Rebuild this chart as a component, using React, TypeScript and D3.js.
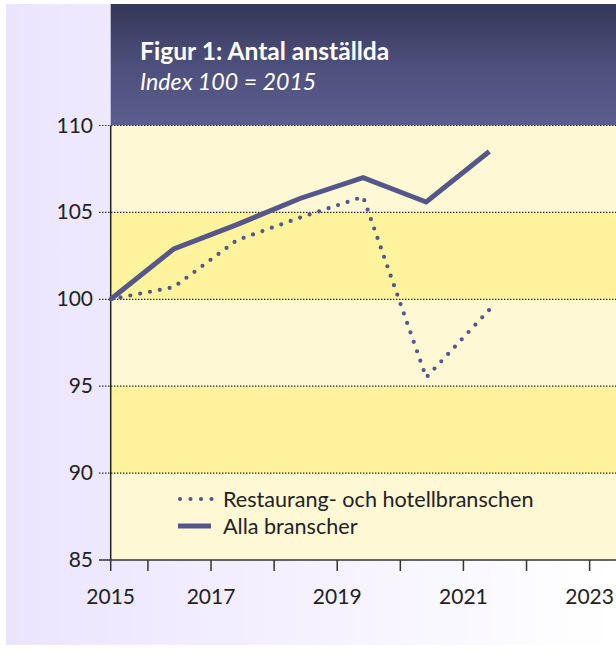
import React from "react";
import * as d3 from "d3";

const years = [2015, 2016, 2017, 2018, 2019, 2020, 2021];
const restaurang = [100, 100.7, 103.4, 104.7, 105.9, 95.5, 99.4];
const alla = [100, 102.9, 104.3, 105.8, 107.0, 105.6, 108.5];
const yTicks = [85, 90, 95, 100, 105, 110];
const xTickYears = [2016, 2017, 2018, 2019, 2020, 2021, 2022, 2023, 2024];
const xLabelYears = [2017, 2019, 2021, 2023];
const bands = [
  { from: 105, to: 110, dark: false },
  { from: 100, to: 105, dark: true },
  { from: 95, to: 100, dark: false },
  { from: 90, to: 95, dark: true },
  { from: 85, to: 90, dark: false },
];
const seriesNames = ["Restaurang- och hotellbranschen", "Alla branscher"];
const title = "Figur 1: Antal anställda";
const subtitle = "Index 100 = 2015";

const OFFSET = 0.41;
const START = 2015 + OFFSET;

export default function App() {
  const W = 616, H = 671;
  const left = 110.7, top = 125.5, bottom = 560, right = 720;
  const x = d3.scaleLinear().domain([START, START + (right - left) / 63.1]).range([left, right]);
  const y = d3.scaleLinear().domain([85, 110]).range([bottom, top]);
  const line = d3
    .line<number>()
    .x((_, i) => x(years[i] + OFFSET))
    .y((d) => y(d));
  const color = "#55578a";
  const font = "Lato, 'Noto Sans', sans-serif";
  const tickFs = 21;
  return (
    <svg width={W} height={H} style={{ position: "absolute", left: 0, top: 0 }} fontFamily={font}>
      <defs>
        <linearGradient id="bg" x1="0" x2="1" y1="0" y2="0">
          <stop offset="0" stopColor="#ebe4ff" />
          <stop offset="1" stopColor="#ffffff" />
        </linearGradient>
        <linearGradient id="hdr" x1="0" x2="0" y1="0" y2="1">
          <stop offset="0" stopColor="#343757" />
          <stop offset="0.5" stopColor="#4d4f7c" />
          <stop offset="1" stopColor="#5b5d8e" />
        </linearGradient>
      </defs>
      <rect x={0} y={0} width={W} height={H} fill="#ffffff" />
      <rect x={6} y={4} width={W - 6} height={641} fill="url(#bg)" />
      <rect x={left} y={4} width={W - left} height={top - 4} fill="url(#hdr)" />
      <text x={140} y={60} fill="#ffffff" fontSize={24.6} fontWeight={700}>{title}</text>
      <text x={140} y={90} fill="#ffffff" fontSize={23.2} fontStyle="italic">{subtitle}</text>
      {bands.map((b, i) => (
        <rect key={i} x={left} y={y(b.to)} width={right - left} height={y(b.from) - y(b.to)} fill={b.dark ? "#fff39e" : "#fff8d4"} />
      ))}
      {yTicks.filter((t) => t !== 85).map((t) => (
        <line key={t} x1={99} x2={right} y1={y(t)} y2={y(t)} stroke="#222" strokeWidth={1.2} strokeDasharray="1.4 1.6" />
      ))}
      {yTicks.map((t) => (
        <text key={t} x={93} y={y(t) + 7} textAnchor="end" fontSize={tickFs} fill="#222">{t}</text>
      ))}
      <line x1={left} x2={left} y1={top} y2={bottom} stroke="#222" strokeWidth={1.5} />
      <line x1={99} x2={right} y1={bottom} y2={bottom} stroke="#333" strokeWidth={1.5} />
      {[START, ...xTickYears].map((t) => (
        <line key={t} x1={x(t)} x2={x(t)} y1={bottom} y2={bottom + 11} stroke="#333" strokeWidth={1.5} />
      ))}
      <text x={x(START)} y={bottom + 44} textAnchor="middle" fontSize={tickFs} fill="#222">2015</text>
      {xLabelYears.map((t) => (
        <text key={t} x={x(t)} y={bottom + 44} textAnchor="middle" fontSize={tickFs} fill="#222">{t}</text>
      ))}
      <path d={line(alla) || ""} fill="none" stroke={color} strokeWidth={5} strokeLinejoin="miter" />
      <path d={line(restaurang) || ""} fill="none" stroke={color} strokeWidth={4.2} strokeDasharray="0 10" strokeLinecap="round" />
      <line x1={180} x2={212} y1={499} y2={499} stroke={color} strokeWidth={4.2} strokeDasharray="0 10.5" strokeLinecap="round" />
      <line x1={178} x2={211} y1={526} y2={526} stroke={color} strokeWidth={5} />
      <text x={223} y={507} fontSize={21.6} fill="#222">{seriesNames[0]}</text>
      <text x={223} y={534} fontSize={21.6} fill="#222">{seriesNames[1]}</text>
    </svg>
  );
}
